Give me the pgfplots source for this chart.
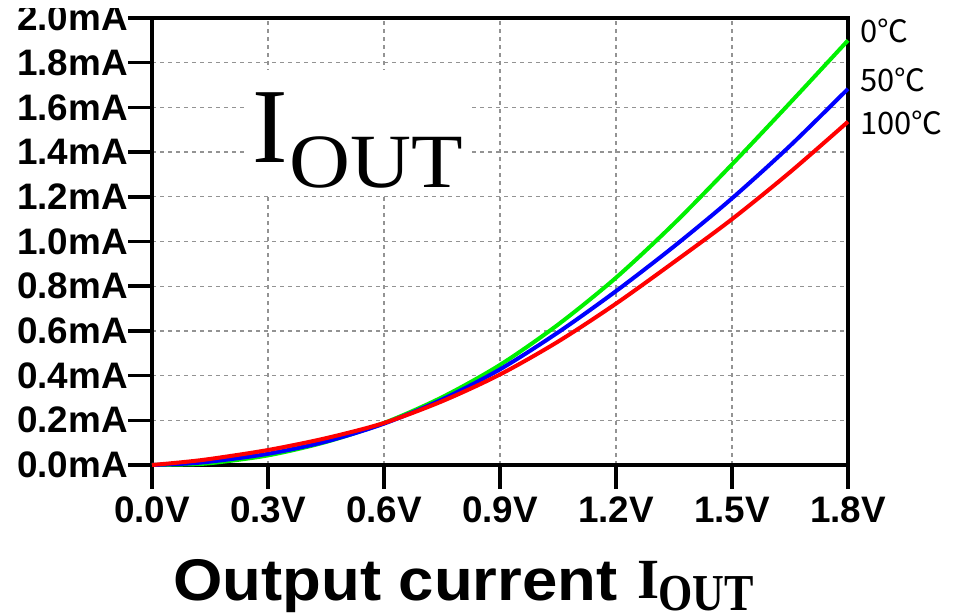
\documentclass[border=0pt]{standalone}
\usepackage{pgfplots}
\pgfplotsset{compat=1.18}
\usepackage{fontspec}
\usepackage{graphicx}
\newfontfamily\lsans{Liberation Sans}
\newfontfamily\lserif{Liberation Serif}
\newfontfamily\jp{Noto Sans CJK JP}
\begin{document}
\begin{tikzpicture}[x=1bp,y=1bp]
\useasboundingbox (0,0) rectangle (965,615);
\clip (0,0) rectangle (965,615);
\begin{axis}[
  at={(152bp,150bp)}, anchor=south west,
  scale only axis, width=696bp, height=447bp,
  xmin=0, xmax=1.8, ymin=0, ymax=2.0,
  xtick={0,0.3,0.6,0.9,1.2,1.5,1.8},
  xticklabels={0.0V,0.3V,0.6V,0.9V,1.2V,1.5V,1.8V},
  ytick={0,0.2,0.4,0.6,0.8,1.0,1.2,1.4,1.6,1.8,2.0},
  yticklabels={0.0mA,0.2mA,0.4mA,0.6mA,0.8mA,1.0mA,1.2mA,1.4mA,1.6mA,1.8mA,2.0mA},
  tick align=outside, xtick pos=left, ytick pos=left,
  major tick length=24bp,
  major tick style={black, line width=3.5bp},
  axis line style={black, line width=3.5bp},
  grid=major,
  major grid style={gray!85, dash pattern=on 4bp off 4bp, line width=1.3bp},
  ticklabel style={font=\lsans\bfseries\fontsize{37}{37}\selectfont, inner sep=0pt},
  xticklabel style={yshift=-8bp},
  clip=false,
]
\addplot[color={rgb,255:red,0;green,240;blue,0}, line width=4bp, smooth] coordinates {
(0,0) (0.075,0.002) (0.15,0.008) (0.3,0.043) (0.45,0.103) (0.6,0.188) (0.75,0.303) (0.9,0.448) (1.05,0.628) (1.2,0.838) (1.35,1.08) (1.5,1.345) (1.65,1.62) (1.8,1.90)};
\addplot[color={rgb,255:red,0;green,0;blue,255}, line width=4bp, smooth] coordinates {
(0,0) (0.075,0.005) (0.15,0.015) (0.3,0.05) (0.45,0.105) (0.6,0.185) (0.75,0.293) (0.9,0.428) (1.05,0.593) (1.2,0.778) (1.35,0.978) (1.5,1.193) (1.65,1.428) (1.8,1.683)};
\addplot[color={rgb,255:red,255;green,0;blue,0}, line width=4bp, smooth] coordinates {
(0,0) (0.075,0.012) (0.15,0.027) (0.3,0.067) (0.45,0.12) (0.6,0.188) (0.75,0.285) (0.9,0.405) (1.05,0.552) (1.2,0.722) (1.35,0.908) (1.5,1.10) (1.65,1.31) (1.8,1.536)};
\end{axis}
% big I_OUT label with white background
\fill[white] (248,420) rectangle (470,545);
\node[anchor=base west, inner sep=0pt] at (252,452) {\lserif\fontsize{107}{107}\selectfont I};
\node[anchor=base west, inner sep=0pt] at (289,427) {\scalebox{1.1}[1]{\lserif\fontsize{77}{77}\selectfont OUT}};
% temperature labels
\node[anchor=base west, inner sep=0pt] at (860,572) {\jp\fontsize{31}{31}\selectfont 0℃};
\node[anchor=base west, inner sep=0pt] at (860,523) {\jp\fontsize{31}{31}\selectfont 50℃};
\node[anchor=base west, inner sep=0pt] at (860,480) {\jp\fontsize{31}{31}\selectfont 100℃};
% title
\node[anchor=base west, inner sep=0pt] at (173,14) {\scalebox{1.08}[1]{\lsans\bfseries\fontsize{59}{59}\selectfont Output current}};
\node[anchor=base west, inner sep=0pt] at (637,16) {\lserif\bfseries\fontsize{57}{57}\selectfont I};
\node[anchor=base west, inner sep=0pt] at (658,4) {\scalebox{0.85}[1]{\lserif\bfseries\fontsize{52}{52}\selectfont OUT}};
\fill[white] (0,607) rectangle (150,615);
\end{tikzpicture}
\end{document}
